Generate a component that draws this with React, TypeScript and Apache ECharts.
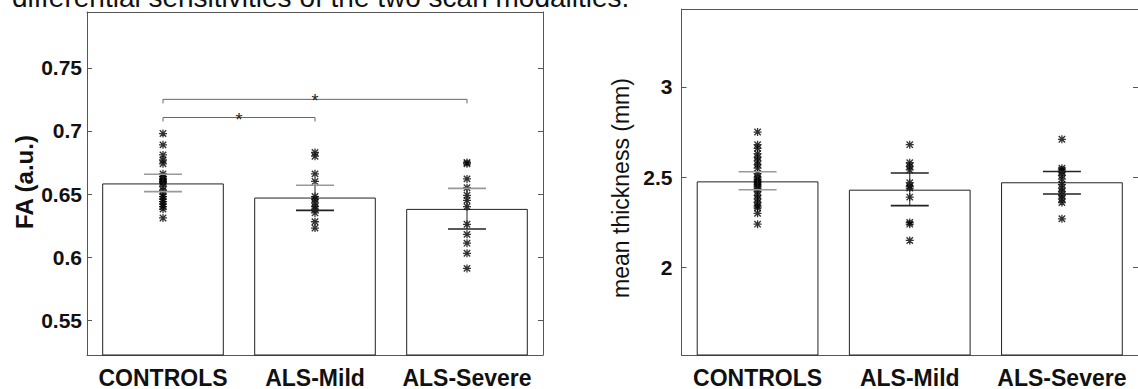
import { useEffect, useRef } from "react";
import * as echarts from "echarts";

// ---------- data ----------
const categories = ["CONTROLS", "ALS-Mild", "ALS-Severe"];

// Left panel: FA (a.u.)
const faMeans = [0.6584, 0.6472, 0.6382];
const faErrLow = [0.6519, 0.637, 0.6223];
const faErrHigh = [0.6657, 0.657, 0.6545];
const faControls = [0.698, 0.689, 0.681, 0.677, 0.674, 0.666, 0.664, 0.662, 0.661, 0.660, 0.659, 0.656, 0.653, 0.650, 0.648, 0.646, 0.644, 0.642, 0.640, 0.638, 0.631];
const faMild = [0.683, 0.680, 0.666, 0.660, 0.648, 0.646, 0.643, 0.640, 0.638, 0.635, 0.628, 0.623];
const faSevere = [0.675, 0.674, 0.662, 0.655, 0.649, 0.645, 0.640, 0.626, 0.618, 0.611, 0.603, 0.591];
const faTicks = [0.55, 0.6, 0.65, 0.7, 0.75];
const faRange = [0.5223, 0.7944];
// [from category, to category, level]
const faBrackets = [
  [0, 2, 0.7251],
  [0, 1, 0.7107],
];

// Right panel: mean thickness (mm)
const thMeans = [2.477, 2.431, 2.472];
const thErrLow = [2.431, 2.343, 2.407];
const thErrHigh = [2.53, 2.523, 2.532];
const thControls = [2.75, 2.68, 2.66, 2.63, 2.61, 2.59, 2.57, 2.55, 2.52, 2.5, 2.49, 2.48, 2.47, 2.46, 2.45, 2.44, 2.42, 2.4, 2.38, 2.36, 2.34, 2.33, 2.3, 2.24];
const thMild = [2.68, 2.58, 2.56, 2.54, 2.47, 2.45, 2.44, 2.39, 2.25, 2.24, 2.15];
const thSevere = [2.71, 2.55, 2.54, 2.53, 2.51, 2.49, 2.46, 2.44, 2.42, 2.4, 2.38, 2.36, 2.27];
const thTicks = [2, 2.5, 3];
const thRange = [1.516, 3.431];

const headline = "differential sensitivities of the two scan modalities.";
const faTitle = "FA (a.u.)";
const thTitle = "mean thickness (mm)";

// ---------- styles ----------
const FONT = '"Liberation Sans", Arial, Helvetica, sans-serif';
const AXIS = "#555";
const CAP_COLORS_FA = [["#999", "#999"], ["#999", "#222"], ["#999", "#222"]];
const CAP_COLORS_TH = [["#999", "#999"], ["#222", "#222"], ["#222", "#222"]];
const STAR =
  "path://M4.2 0 L5.8 0 L5.8 10 L4.2 10 Z M0 4.2 L10 4.2 L10 5.8 L0 5.8 Z M1.6 0.4 L9.6 8.4 L8.4 9.6 L0.4 1.6 Z M8.4 0.4 L9.6 1.6 L1.6 9.6 L0.4 8.4 Z M3 3 L7 3 L7 7 L3 7 Z";

function axesFor(gridIndex: number, range: number[], ticks: number[], fmt: (v: number) => string, labelMargin: number) {
  const x = [
    {
      type: "category",
      gridIndex,
      data: categories,
      position: "bottom",
      axisLine: { lineStyle: { color: AXIS, width: 1 } },
      axisTick: { alignWithLabel: true, inside: true, length: 4, lineStyle: { color: AXIS } },
      axisLabel: { interval: 0, hideOverlap: false, fontFamily: FONT, fontSize: 23, fontWeight: "bold", color: "#111", margin: 11 },
      splitLine: { show: false },
    },
    {
      type: "category",
      gridIndex,
      data: categories,
      position: "top",
      axisLine: { lineStyle: { color: AXIS, width: 1 } },
      axisTick: { alignWithLabel: true, inside: true, length: 4, interval: 0, lineStyle: { color: AXIS } },
      axisLabel: { show: false, interval: 0 },
      splitLine: { show: false },
    },
  ];
  const y = [
    {
      type: "value",
      gridIndex,
      position: "left",
      min: range[0],
      max: range[1],
      axisLine: { show: true, lineStyle: { color: AXIS, width: 1 } },
      axisTick: { show: true, inside: true, length: 5, customValues: ticks, lineStyle: { color: AXIS } },
      axisLabel: {
        customValues: ticks,
        formatter: fmt,
        fontFamily: FONT,
        fontSize: 21,
        fontWeight: "bold",
        color: "#111",
        margin: labelMargin,
      },
      splitLine: { show: false },
    },
    {
      type: "value",
      gridIndex,
      position: "right",
      min: range[0],
      max: range[1],
      axisLine: { show: true, lineStyle: { color: AXIS, width: 1 } },
      axisTick: { show: true, inside: true, length: 5, customValues: ticks, lineStyle: { color: AXIS } },
      axisLabel: { show: false },
      splitLine: { show: false },
    },
  ];
  return { x, y };
}

function errorSeries(axisBase: number, lows: number[], highs: number[], capColors: string[][]) {
  return {
    type: "custom",
    xAxisIndex: axisBase,
    yAxisIndex: axisBase,
    z: 5,
    encode: { x: 0, y: [1, 2] },
    data: lows.map((lo, i) => [i, lo, highs[i]]),
    renderItem: (params: any, api: any) => {
      const i = params.dataIndex;
      const x = api.value(0);
      const pLo = api.coord([x, api.value(1)]);
      const pHi = api.coord([x, api.value(2)]);
      const half = 19;
      return {
        type: "group",
        children: [
          { type: "line", shape: { x1: pLo[0], y1: pLo[1], x2: pHi[0], y2: pHi[1] }, style: { stroke: "#222", lineWidth: 1 } },
          { type: "line", shape: { x1: pHi[0] - half, y1: pHi[1], x2: pHi[0] + half, y2: pHi[1] }, style: { stroke: capColors[i][0], lineWidth: 1.6 } },
          { type: "line", shape: { x1: pLo[0] - half, y1: pLo[1], x2: pLo[0] + half, y2: pLo[1] }, style: { stroke: capColors[i][1], lineWidth: 1.6 } },
        ],
      };
    },
  };
}

function barSeries(axisBase: number, means: number[]) {
  return {
    type: "bar",
    xAxisIndex: axisBase,
    yAxisIndex: axisBase,
    barWidth: "80%",
    z: 2,
    data: means,
    itemStyle: { color: "#fff", borderColor: "#222", borderWidth: 1 },
    silent: true,
  };
}

function pointSeries(axisBase: number, groups: number[][]) {
  const data: number[][] = [];
  groups.forEach((g, i) => g.forEach((v) => data.push([i, v])));
  return {
    type: "scatter",
    xAxisIndex: axisBase,
    yAxisIndex: axisBase,
    z: 4,
    symbol: STAR,
    symbolSize: 8,
    itemStyle: { color: "#000" },
    data,
  };
}

export default function App() {
  const ref = useRef<HTMLDivElement>(null);

  useEffect(() => {
    if (!ref.current) return;
    const chart = echarts.init(ref.current, undefined, { renderer: "svg" });

    const left = axesFor(0, faRange, faTicks, (v: number) => String(Number(v.toFixed(2))), 5);
    const right = axesFor(1, thRange, thTicks, (v: number) => String(Number(v.toFixed(2))), 9);

    chart.setOption({
      animation: false,
      backgroundColor: "#fff",
      grid: [
        { left: 87, top: 12, width: 456, height: 346 },
        { left: 681.5, top: 9, width: 466.5, height: 348 },
      ],
      // order: 0 bottom-left, 1 top-left, 2 bottom-right, 3 top-right
      xAxis: [...left.x, ...right.x],
      yAxis: [...left.y, ...right.y],
      series: [
        barSeries(0, faMeans),
        pointSeries(0, [faControls, faMild, faSevere]),
        errorSeries(0, faErrLow, faErrHigh, CAP_COLORS_FA),
        {
          type: "custom",
          xAxisIndex: 0,
          yAxisIndex: 0,
          z: 6,
          encode: { x: [0, 1], y: 2 },
          data: faBrackets,
          renderItem: (_params: any, api: any) => {
            const lvl = api.value(2);
            const p1 = api.coord([api.value(0), lvl]);
            const p2 = api.coord([api.value(1), lvl]);
            return {
              type: "group",
              children: [
                {
                  type: "polyline",
                  shape: { points: [[p1[0], p1[1] + 4], [p1[0], p1[1]], [p2[0], p2[1]], [p2[0], p2[1] + 4]] },
                  style: { stroke: "#666", fill: "none", lineWidth: 1 },
                },
                {
                  type: "text",
                  x: (p1[0] + p2[0]) / 2,
                  y: p1[1] + 2,
                  style: { text: "*", font: `18px ${FONT}`, align: "center", verticalAlign: "middle", fill: "#222" },
                },
              ],
            };
          },
        },
        barSeries(2, thMeans),
        pointSeries(2, [thControls, thMild, thSevere]),
        errorSeries(2, thErrLow, thErrHigh, CAP_COLORS_TH),
      ],
      graphic: [
        {
          type: "text",
          x: 12,
          y: -3,
          style: { text: headline, font: `28px ${FONT}`, fill: "#111", align: "left", verticalAlign: "middle" },
        },
        {
          type: "text",
          x: 24,
          y: 182,
          rotation: Math.PI / 2,
          style: { text: faTitle, font: `bold 24px ${FONT}`, fill: "#111", align: "center", verticalAlign: "middle" },
        },
        {
          type: "text",
          x: 621,
          y: 188,
          rotation: Math.PI / 2,
          style: { text: thTitle, font: `23px ${FONT}`, fill: "#111", align: "center", verticalAlign: "middle" },
        },
      ],
    });

    return () => chart.dispose();
  }, []);

  return (
    <div
      ref={ref}
      style={{ position: "fixed", left: 0, top: 0, width: 1138, height: 389, background: "#fff" }}
    />
  );
}
